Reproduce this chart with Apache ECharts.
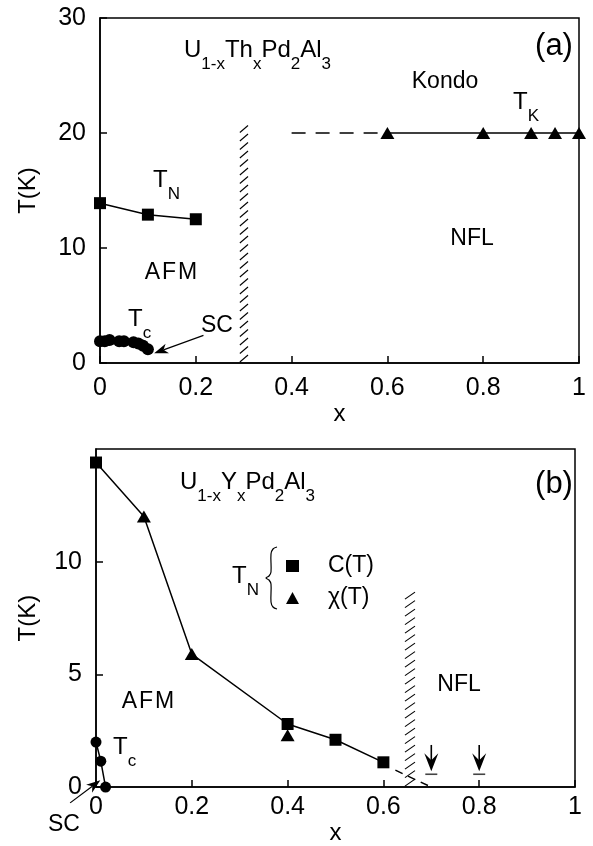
<!DOCTYPE html>
<html>
<head>
<meta charset="utf-8">
<script src="https://cdn.jsdelivr.net/npm/echarts@6/dist/echarts.min.js"></script>
<style>
  html, body { margin: 0; padding: 0; background: #fff; }
  #chart { width: 593px; height: 846px; }
</style>
</head>
<body>
<div id="chart"></div>
<script>
// ---- (a) U1-xThxPd2Al3 ----
const thTNx = [0, 0.1, 0.2];
const thTN = [13.9, 12.9, 12.5];
const thTcX = [0, 0.01, 0.02, 0.04, 0.05, 0.07, 0.08, 0.09, 0.1];
const thTc = [1.9, 1.9, 2.0, 1.9, 1.9, 1.8, 1.7, 1.5, 1.2];
const thTKx = [0.6, 0.8, 0.9, 0.95, 1.0];
const thTK = [20, 20, 20, 20, 20];
const thTKextX = [0.4, 0.6];
const thTKext = [20, 20];
const thBand = [0.292, 0.309, 20.9];          // x from, x to, top T
const thScPointer = [0.216, 2.4, 0.113, 0.85]; // from (x, T) to (x, T)

// ---- (b) U1-xYxPd2Al3 ----
const yTNx = [0, 0.1, 0.2, 0.4, 0.5, 0.6];
const yTN = [14.4, 12.0, 5.9, 2.8, 2.1, 1.1];
const yCx = [0, 0.4, 0.5, 0.6];
const yC = [14.4, 2.8, 2.1, 1.1];
const yChiX = [0.1, 0.2, 0.4];
const yChi = [12.0, 5.9, 2.3];
const yTcX = [0, 0.01, 0.02];
const yTc = [2.0, 1.15, 0];
const yExtX = [0.625, 0.70];
const yExt = [0.75, 0];
const yBand = [0.645, 0.666, 8.9];
const nflX = [0.7, 0.8];
const nflTop = [1.87, 1.87];
const nflTip = [0.7, 0.7];
const nflBar = [0.57, 0.57];
const yScPointer = [-0.054, -0.7, 0.009, 0.3];

// axis ticks
const xTicks = [0, 0.2, 0.4, 0.6, 0.8, 1];
const yTicksA = [0, 10, 20, 30];
const yTicksB = [0, 5, 10, 15];

const FONT = "'Liberation Sans', Arial, Helvetica, sans-serif";
const pts = (xs, ys) => xs.map((x, i) => [x, ys[i]]);

const chart = echarts.init(document.getElementById('chart'), null, { renderer: 'canvas' });

function xAxisCfg(gridIndex, margin, nameGap) {
  return {
    type: 'value', gridIndex, min: xTicks[0], max: xTicks[xTicks.length - 1],
    interval: xTicks[1] - xTicks[0],
    name: 'x', nameLocation: 'middle', nameGap,
    nameTextStyle: { fontFamily: FONT, fontSize: 24, color: '#000' },
    axisLine: { lineStyle: { color: '#000', width: 1.5 } },
    axisTick: { inside: true, length: 7, lineStyle: { color: '#000', width: 1.5 } },
    axisLabel: { margin, fontFamily: FONT, fontSize: 25, color: '#000' },
    splitLine: { show: false }
  };
}
function yAxisCfg(gridIndex, ticks, nameGap, showMax) {
  return {
    type: 'value', gridIndex, min: ticks[0], max: ticks[ticks.length - 1],
    interval: ticks[1] - ticks[0],
    name: 'T(K)', nameLocation: 'middle', nameGap,
    nameTextStyle: { fontFamily: FONT, fontSize: 24, color: '#000' },
    axisLine: { lineStyle: { color: '#000', width: 1.5 } },
    axisTick: { inside: true, length: 7, lineStyle: { color: '#000', width: 1.5 } },
    axisLabel: { margin: 14, fontFamily: FONT, fontSize: 25, color: '#000', showMaxLabel: showMax },
    splitLine: { show: false }
  };
}

// hatched boundary strip
function hatchItem(params, api) {
  const bl = api.coord([api.value(0), 0]);
  const tr = api.coord([api.value(1), api.value(2)]);
  const kids = [];
  for (let y = bl[1] - 1; y - 7 >= tr[1] - 1; y -= 8.5) {
    kids.push({ type: 'line', shape: { x1: bl[0], y1: y, x2: tr[0], y2: y - 7 },
      style: { stroke: '#000', lineWidth: 1.1 } });
  }
  return { type: 'group', children: kids };
}

// downward arrow onto a short bar, marking the NFL onset
function onsetArrowItem(params, api) {
  const top = api.coord([api.value(0), api.value(1)]);
  const tip = api.coord([api.value(0), api.value(2)]);
  const bar = api.coord([api.value(0), api.value(3)]);
  const x = top[0];
  return {
    type: 'group',
    children: [
      { type: 'line', shape: { x1: x, y1: top[1], x2: x, y2: tip[1] - 10 },
        style: { stroke: '#000', lineWidth: 1.6 } },
      { type: 'polygon', shape: { points: [[x, tip[1]], [x - 7, tip[1] - 18], [x, tip[1] - 11], [x + 7, tip[1] - 18]] },
        style: { fill: '#000' } },
      { type: 'line', shape: { x1: x - 6, y1: bar[1], x2: x + 6, y2: bar[1] },
        style: { stroke: '#444', lineWidth: 1.6 } }
    ]
  };
}

// straight pointer with a barbed head at its end
function pointerItem(params, api) {
  const p0 = api.coord([api.value(0), api.value(1)]);
  const p1 = api.coord([api.value(2), api.value(3)]);
  const dx = p1[0] - p0[0], dy = p1[1] - p0[1];
  const L = Math.hypot(dx, dy);
  const ux = dx / L, uy = dy / L, nx = -uy, ny = ux;
  const back = [p1[0] - ux * 14, p1[1] - uy * 14];
  const notch = [p1[0] - ux * 10, p1[1] - uy * 10];
  return {
    type: 'group',
    children: [
      { type: 'line', shape: { x1: p0[0], y1: p0[1], x2: notch[0], y2: notch[1] },
        style: { stroke: '#000', lineWidth: 1.2 } },
      { type: 'polygon', shape: { points: [p1, [back[0] + nx * 5, back[1] + ny * 5], notch, [back[0] - nx * 5, back[1] - ny * 5]] },
        style: { fill: '#000' } }
    ]
  };
}

const blk = { color: '#000', opacity: 1 };
const lineSt = { color: '#000', width: 1.5 };

// main text and subscript tokens; token height sets the vertical placement
const richStyle = {
  m: { fontFamily: FONT, fontSize: 24, height: 24, lineHeight: 24, verticalAlign: 'top', fill: '#000' },
  s: { fontFamily: FONT, fontSize: 17, height: 52, lineHeight: 52, verticalAlign: 'top', fill: '#000' }
};
function richText(x, y, text) {
  return { type: 'text', x, y, silent: true,
    style: { text, rich: richStyle, textAlign: 'left', textVerticalAlign: 'top', fill: '#000' } };
}
function plainText(x, y, text, size) {
  return { type: 'text', x, y, silent: true,
    style: { text, fontFamily: FONT, fontSize: size || 23, fill: '#000', textAlign: 'center', textVerticalAlign: 'middle' } };
}

const option = {
  backgroundColor: '#fff',
  animation: false,
  grid: [
    { left: 100, top: 18, width: 479, height: 345, show: true, borderColor: '#000', borderWidth: 1.5 },
    { left: 96, top: 449, width: 479, height: 345, show: true, borderColor: '#000', borderWidth: 1.5 }
  ],
  xAxis: [xAxisCfg(0, 13, 30), xAxisCfg(1, 8, 18)],
  yAxis: [yAxisCfg(0, yTicksA, 60, true), yAxisCfg(1, yTicksB, 56, false)],
  legend: {
    data: ['C(T)', 'χ(T)'], orient: 'vertical', left: 281, top: 549,
    itemWidth: 13, itemHeight: 12, itemGap: 8, selectedMode: false,
    textStyle: { fontFamily: FONT, fontSize: 23, color: '#000', lineHeight: 24, padding: [0, 0, 0, 24] }
  },
  series: [
    // (a)
    { type: 'line', xAxisIndex: 0, yAxisIndex: 0, data: pts(thTNx, thTN),
      symbol: 'rect', symbolSize: 12, itemStyle: blk, lineStyle: lineSt },
    { type: 'scatter', xAxisIndex: 0, yAxisIndex: 0, data: pts(thTcX, thTc),
      symbol: 'circle', symbolSize: 12, itemStyle: blk },
    { type: 'custom', xAxisIndex: 0, yAxisIndex: 0, renderItem: pointerItem, clip: false,
      encode: { x: [0, 2], y: [1, 3] }, data: [thScPointer], silent: true },
    { type: 'line', xAxisIndex: 0, yAxisIndex: 0, data: pts(thTKextX, thTKext),
      symbol: 'none', lineStyle: { color: '#000', width: 1.5, type: [14, 10] } },
    { type: 'line', xAxisIndex: 0, yAxisIndex: 0, data: pts(thTKx, thTK),
      symbol: 'triangle', symbolSize: [14, 12], itemStyle: blk, lineStyle: lineSt },
    { type: 'custom', xAxisIndex: 0, yAxisIndex: 0, renderItem: hatchItem,
      encode: { x: [0, 1], y: 2 }, data: [thBand], silent: true },
    // (b)
    { type: 'line', xAxisIndex: 1, yAxisIndex: 1, data: pts(yTNx, yTN),
      symbol: 'none', lineStyle: lineSt },
    { name: 'C(T)', type: 'scatter', xAxisIndex: 1, yAxisIndex: 1, data: pts(yCx, yC),
      symbol: 'rect', symbolSize: 12, itemStyle: blk },
    { name: 'χ(T)', type: 'scatter', xAxisIndex: 1, yAxisIndex: 1, data: pts(yChiX, yChi),
      symbol: 'triangle', symbolSize: [14, 12], itemStyle: blk },
    { type: 'line', xAxisIndex: 1, yAxisIndex: 1, data: pts(yTcX, yTc), clip: false,
      symbol: 'circle', symbolSize: 11, itemStyle: blk, lineStyle: lineSt },
    { type: 'custom', xAxisIndex: 1, yAxisIndex: 1, renderItem: pointerItem, clip: false,
      encode: { x: [0, 2], y: [1, 3] }, data: [yScPointer], silent: true },
    { type: 'line', xAxisIndex: 1, yAxisIndex: 1, data: pts(yExtX, yExt),
      symbol: 'none', lineStyle: { color: '#000', width: 1.5, type: [8, 6] } },
    { type: 'custom', xAxisIndex: 1, yAxisIndex: 1, renderItem: hatchItem,
      encode: { x: [0, 1], y: 2 }, data: [yBand], silent: true },
    { type: 'custom', xAxisIndex: 1, yAxisIndex: 1, renderItem: onsetArrowItem,
      encode: { x: 0, y: [1, 2, 3] }, data: nflX.map((x, i) => [x, nflTop[i], nflTip[i], nflBar[i]]), silent: true }
  ],
  graphic: [
    // (a) annotations
    richText(184, 38, '{m|U}{s|1-x}{m|Th}{s|x}{m|Pd}{s|2}{m|Al}{s|3}'),
    plainText(554, 46, '(a)', 31),
    plainText(445, 82, 'Kondo'),
    richText(513, 90, '{m|T}{s|K}'),
    richText(153, 168, '{m|T}{s|N}'),
    plainText(472, 239, 'NFL'),
    plainText(171, 273, 'A\u200AF\u200AM'),
    richText(128, 307, '{m|T}{s|c}'),
    plainText(217, 326, 'SC'),
    // (b) annotations
    richText(180, 470, '{m|U}{s|1-x}{m|Y}{s|x}{m|Pd}{s|2}{m|Al}{s|3}'),
    plainText(554, 484, '(b)', 31),
    richText(232, 564, '{m|T}{s|N}'),
    { type: 'polyline', silent: true,
      shape: { smooth: 0.35, points: [[277, 547], [273, 549], [271, 554], [271, 572], [269, 576], [266, 578],
        [269, 580], [271, 584], [271, 602], [273, 607], [277, 609]] },
      style: { stroke: '#000', lineWidth: 1.2, fill: null } },
    plainText(148, 702, 'A\u200AF\u200AM'),
    richText(113, 735, '{m|T}{s|c}'),
    plainText(459, 685, 'NFL'),
    plainText(64, 825, 'SC')
  ]
};
chart.setOption(option);
</script>
</body>
</html>
